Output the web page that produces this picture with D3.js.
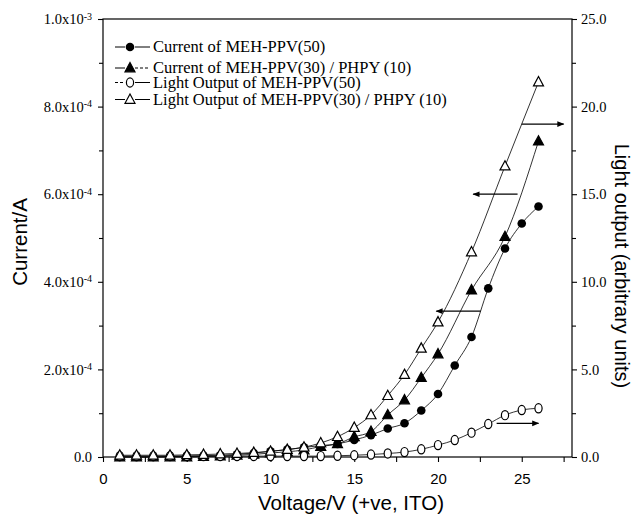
<!DOCTYPE html>
<html>
<head>
<meta charset="utf-8">
<script src="https://cdn.jsdelivr.net/npm/d3@7"></script>
<style>
  body { margin: 0; background: #fff; }
  svg { display: block; }
  .serif { font-family: "Liberation Serif", "DejaVu Serif", serif; }
  .sans { font-family: "Liberation Sans", Arial, sans-serif; }
</style>
</head>
<body>
<div id="chart"></div>
<script>
// voltages (V)
const voltsAll = [1,2,3,4,5,6,7,8,9,10,11,12,13,14,15,16,17,18,19,20,21,22,23,24,25,26];
const voltsPhpy = [1,2,3,4,5,6,7,8,9,10,11,12,13,14,15,16,17,18,19,20,22,24,26];

// current, units of 1e-4 A
const currentMeh = [0,0,0,0.01,0.02,0.03,0.04,0.06,0.09,0.13,0.17,0.22,0.26,0.30,0.39,0.50,0.65,0.77,1.06,1.44,2.09,2.74,3.85,4.76,5.33,5.72];
const currentPhpy = [0,0,0,0,0,0.01,0.02,0.04,0.06,0.09,0.12,0.16,0.24,0.30,0.46,0.58,0.96,1.30,1.81,2.35,3.81,5.03,7.21];

// light output, arbitrary units
const lightMeh = [0.05,0.05,0.05,0.05,0.05,0.05,0.05,0.05,0.05,0.05,0.05,0.05,0.05,0.07,0.10,0.14,0.20,0.28,0.44,0.68,0.97,1.39,1.88,2.39,2.68,2.78];
const lightPhpy = [0.10,0.10,0.10,0.10,0.12,0.14,0.17,0.20,0.25,0.32,0.42,0.56,0.80,1.16,1.68,2.40,3.50,4.70,6.20,7.70,11.7,16.6,21.4];

const legendLabels = [
  'Current of MEH-PPV(50)',
  'Current of MEH-PPV(30) / PHPY (10)',
  'Light Output of MEH-PPV(50)',
  'Light Output of MEH-PPV(30) / PHPY (10)'
];

// x ticks
const xMajor = [0,5,10,15,20,25];
const xMinor = [2.5,7.5,12.5,17.5,22.5,27.5];
// left ticks (A) and labels [mantissa, exponent]
const leftMajor = [0,2e-4,4e-4,6e-4,8e-4,1e-3];
const leftMinor = [1e-4,3e-4,5e-4,7e-4,9e-4];
const leftLabels = [['0.0',''],['2.0x10','-4'],['4.0x10','-4'],['6.0x10','-4'],['8.0x10','-4'],['1.0x10','-3']];
// right ticks
const rightMajor = [0,5,10,15,20,25];
const rightMinor = [2.5,7.5,12.5,17.5,22.5];
const rightLabels = ['0.0','5.0','10.0','15.0','20.0','25.0'];

// arrows: [x from, x to, y, axis]
const arrows = [
  [25.0, 27.5, 19.0, 'right'],
  [24.75, 22.1, 6.0e-4, 'left'],
  [22.55, 19.9, 3.33e-4, 'left'],
  [23.5, 26.0, 1.92, 'right']
];

const W = 635, H = 514;
const svg = d3.select('#chart').append('svg').attr('width', W).attr('height', H);

const x = d3.scaleLinear().domain([0, 28]).range([103, 572]);
const yL = d3.scaleLinear().domain([0, 1e-3]).range([457, 19]);
const yR = d3.scaleLinear().domain([0, 25]).range([457, 19]);

// frame
svg.append('rect').attr('x', 103).attr('y', 19).attr('width', 469).attr('height', 438)
  .attr('fill', 'none').attr('stroke', '#000').attr('stroke-width', 1.2);

// bottom axis
const gx = svg.append('g').attr('transform', 'translate(0,457)')
  .call(d3.axisBottom(x).tickValues(xMajor).tickSize(5).tickSizeOuter(0).tickPadding(11).tickFormat(d3.format('d')));
svg.append('g').attr('transform', 'translate(0,457)')
  .call(d3.axisBottom(x).tickValues(xMinor).tickSize(5).tickSizeOuter(0).tickFormat(''));
gx.selectAll('text').attr('class', 'sans').style('font-size', '15px').attr('fill', '#000');

// left axis
const gl = svg.append('g').attr('transform', 'translate(103,0)')
  .call(d3.axisLeft(yL).tickValues(leftMajor).tickSize(5).tickSizeOuter(0).tickPadding(6).tickFormat(''));
svg.append('g').attr('transform', 'translate(103,0)')
  .call(d3.axisLeft(yL).tickValues(leftMinor).tickSize(4).tickSizeOuter(0).tickFormat(''));
gl.selectAll('.tick text').each(function(d, i) {
  const t = d3.select(this).attr('class', 'serif').attr('fill', '#000').style('font-size', '14.5px');
  t.text(null);
  t.append('tspan').text(leftLabels[i][0]);
  if (leftLabels[i][1]) t.append('tspan').attr('dy', '-0.45em').style('font-size', '10px').text(leftLabels[i][1]);
});

// right axis
const gr = svg.append('g').attr('transform', 'translate(572,0)')
  .call(d3.axisRight(yR).tickValues(rightMajor).tickSize(5).tickSizeOuter(0).tickPadding(4).tickFormat((d, i) => rightLabels[i]));
svg.append('g').attr('transform', 'translate(572,0)')
  .call(d3.axisRight(yR).tickValues(rightMinor).tickSize(4).tickSizeOuter(0).tickFormat(''));
gr.selectAll('text').attr('class', 'serif').style('font-size', '14.5px').attr('fill', '#000');

svg.selectAll('.domain').remove();
svg.selectAll('.tick line').attr('stroke', '#000').attr('stroke-width', 1.1);

// axis titles
svg.append('text').attr('class', 'sans').attr('x', 351).attr('y', 510).attr('text-anchor', 'middle')
  .style('font-size', '20.5px').text('Voltage/V (+ve, ITO)');
svg.append('text').attr('class', 'sans').attr('transform', 'translate(27,242) rotate(-90)')
  .attr('text-anchor', 'middle').style('font-size', '20.5px').text('Current/A');
svg.append('text').attr('class', 'sans').attr('transform', 'translate(615,266) rotate(90)')
  .attr('text-anchor', 'middle').style('font-size', '20px').text('Light output (arbitrary units)');

// series
const series = [
  { v: voltsAll, d: currentMeh.map(c => c * 1e-4), y: yL, marker: 'dot' },
  { v: voltsPhpy, d: currentPhpy.map(c => c * 1e-4), y: yL, marker: 'tri' },
  { v: voltsAll, d: lightMeh, y: yR, marker: 'ring' },
  { v: voltsPhpy, d: lightPhpy, y: yR, marker: 'otri' }
];

const plot = svg.append('g');
series.forEach(s => {
  const pts = s.v.map((v, i) => [x(v), s.y(s.d[i])]);
  plot.append('path').attr('d', d3.line().curve(d3.curveMonotoneX)(pts))
    .attr('fill', 'none').attr('stroke', '#000').attr('stroke-width', 0.8);
});

function drawMarker(g, type, cx, cy) {
  if (type === 'dot') {
    g.append('circle').attr('cx', cx).attr('cy', cy).attr('r', 4.3).attr('fill', '#000');
  } else if (type === 'ring') {
    g.append('ellipse').attr('cx', cx).attr('cy', cy).attr('rx', 3.6).attr('ry', 4.6)
      .attr('fill', '#fff').attr('stroke', '#000').attr('stroke-width', 1.2);
  } else {
    const p = d3.path();
    p.moveTo(cx, cy - 5.5); p.lineTo(cx + 5, cy + 3.8); p.lineTo(cx - 5, cy + 3.8); p.closePath();
    g.append('path').attr('d', p.toString())
      .attr('fill', type === 'tri' ? '#000' : '#fff').attr('stroke', '#000').attr('stroke-width', 1.2);
  }
}

series.forEach(s => {
  s.v.forEach((v, i) => drawMarker(plot, s.marker, x(v), s.y(s.d[i])));
});

// arrows
svg.append('defs').append('marker').attr('id', 'head').attr('viewBox', '0 0 10 10')
  .attr('refX', 9).attr('refY', 5).attr('markerWidth', 9).attr('markerHeight', 7)
  .attr('markerUnits', 'userSpaceOnUse').attr('orient', 'auto')
  .append('path').attr('d', 'M0,1 L10,5 L0,9 Z').attr('fill', '#000');
arrows.forEach(a => {
  const ys = a[3] === 'left' ? yL : yR;
  svg.append('line').attr('x1', x(a[0])).attr('x2', x(a[1])).attr('y1', ys(a[2])).attr('y2', ys(a[2]))
    .attr('stroke', '#000').attr('stroke-width', 1.3).attr('marker-end', 'url(#head)');
});

// legend
const legendY = [47, 68, 82.5, 99.5];
const legendMarker = ['dot', 'tri', 'ring', 'otri'];
const legendDash = [['', ''], ['', '3,2'], ['3,2', ''], ['', '']];
const lg = svg.append('g');
legendLabels.forEach((lab, i) => {
  const cy = legendY[i];
  lg.append('line').attr('x1', 115).attr('x2', 125).attr('y1', cy).attr('y2', cy)
    .attr('stroke', '#000').attr('stroke-width', 1).attr('stroke-dasharray', legendDash[i][0] || null);
  lg.append('line').attr('x1', 135).attr('x2', 150).attr('y1', cy).attr('y2', cy)
    .attr('stroke', '#000').attr('stroke-width', 1).attr('stroke-dasharray', legendDash[i][1] || null);
  drawMarker(lg, legendMarker[i], 130, cy);
  lg.append('text').attr('class', 'serif').attr('x', 153).attr('y', cy + 5)
    .style('font-size', '16.5px').text(lab);
});
</script>
</body>
</html>
